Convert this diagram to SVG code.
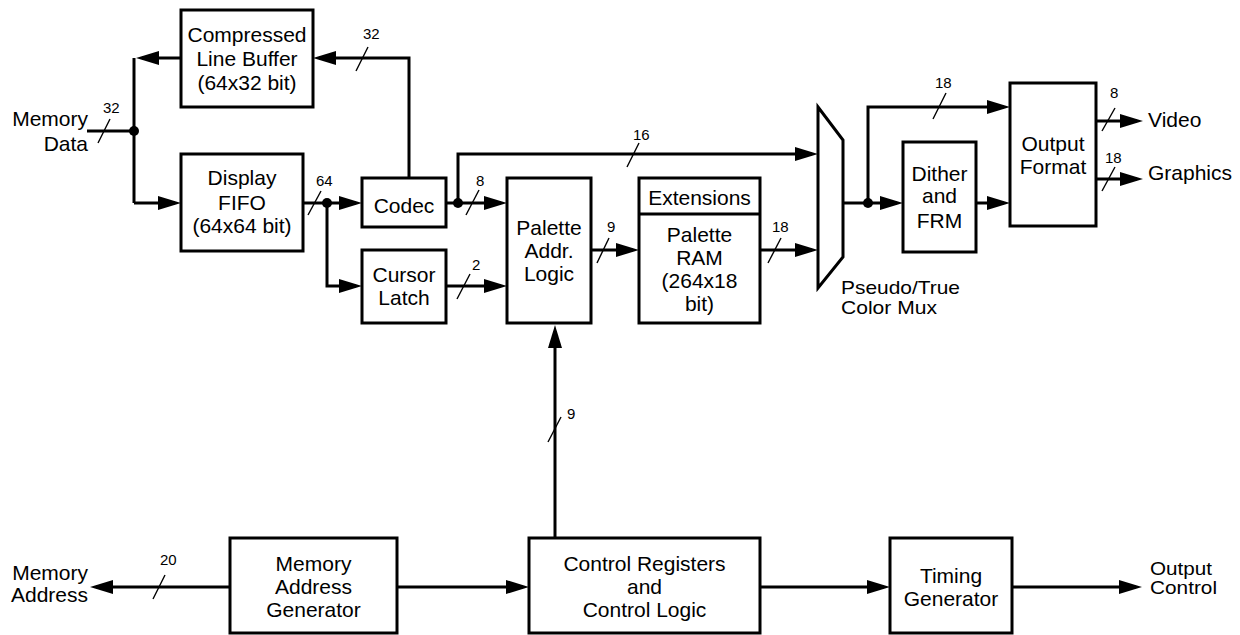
<svg xmlns="http://www.w3.org/2000/svg" width="1240" height="635" viewBox="0 0 1240 635">
<style>
.box{fill:#fff;stroke:#000;stroke-width:3}
.ln{fill:none;stroke:#000;stroke-width:3;marker-end:url(#ah)}
.pl{fill:none;stroke:#000;stroke-width:3}
.sl{stroke:#000;stroke-width:1.4}
text{font-family:"Liberation Sans",Arial,sans-serif;fill:#000}
.t{font-size:21px;text-anchor:middle}
.tl{font-size:21px}
.te{font-size:21px;text-anchor:end}
.ts{font-size:19px}
.n{font-size:15px}
</style>
<defs>
<marker id="ah" markerUnits="userSpaceOnUse" markerWidth="23" markerHeight="14" refX="17" refY="7" orient="auto">
<path d="M0,0 L23,7 L0,14 z" fill="#000"/>
</marker>
</defs>
<rect width="1240" height="635" fill="#fff"/>

<g id="connectors">
<path class="pl" d="M87,131 H134"/>
<path class="pl" d="M134,58 V203"/>
<path class="ln" d="M181,58 H142"/>
<path class="ln" d="M134,203 H175"/>
<path class="ln" d="M303,203 H356"/>
<path class="ln" d="M327,203 V286 H356"/>
<path class="ln" d="M409,178 V58 H319"/>
<path class="ln" d="M446,203 H501"/>
<path class="ln" d="M458,203 V154 H812"/>
<path class="ln" d="M446,286 H501"/>
<path class="ln" d="M591,250 H633"/>
<path class="ln" d="M760,250 H812"/>
<path class="ln" d="M843,203 H897"/>
<path class="ln" d="M868,203 V107 H1004"/>
<path class="ln" d="M976,203 H1004"/>
<path class="ln" d="M1096,121 H1137"/>
<path class="ln" d="M1096,179 H1137"/>
<path class="ln" d="M555,538 V331"/>
<path class="ln" d="M230,587 H96"/>
<path class="ln" d="M397,587 H523"/>
<path class="ln" d="M760,587 H884"/>
<path class="ln" d="M1012,587 H1136"/>
<circle cx="134" cy="131" r="5"/>
<circle cx="327" cy="203" r="5"/>
<circle cx="458" cy="203" r="5"/>
<circle cx="868" cy="203" r="5"/>
<line class="sl" x1="98" y1="143" x2="110" y2="119"/>
<line class="sl" x1="356" y1="71" x2="368" y2="47"/>
<line class="sl" x1="308" y1="215" x2="321" y2="191"/>
<line class="sl" x1="466" y1="215" x2="479" y2="190"/>
<line class="sl" x1="627" y1="167" x2="639" y2="143"/>
<line class="sl" x1="457" y1="299" x2="470" y2="274"/>
<line class="sl" x1="597" y1="263" x2="609" y2="238"/>
<line class="sl" x1="768" y1="263" x2="781" y2="238"/>
<line class="sl" x1="933" y1="119" x2="946" y2="93"/>
<line class="sl" x1="1102" y1="131" x2="1115" y2="108"/>
<line class="sl" x1="1102" y1="191" x2="1115" y2="167"/>
<line class="sl" x1="153" y1="599" x2="165" y2="575"/>
<line class="sl" x1="548" y1="442" x2="561" y2="417"/>
<text class="n" x="103" y="113">32</text>
<text class="n" x="363" y="39">32</text>
<text class="n" x="316" y="186">64</text>
<text class="n" x="476" y="186">8</text>
<text class="n" x="633" y="140">16</text>
<text class="n" x="472" y="270">2</text>
<text class="n" x="607" y="232">9</text>
<text class="n" x="772" y="232">18</text>
<text class="n" x="935" y="88">18</text>
<text class="n" x="1110" y="98">8</text>
<text class="n" x="1105" y="163">18</text>
<text class="n" x="160" y="565">20</text>
<text class="n" x="567" y="419">9</text>
</g>

<g id="memory-data">
<text class="te" x="88" y="126">Memory</text>
<text class="te" x="88" y="151">Data</text>
</g>

<g id="compressed-line-buffer">
<rect class="box" x="181" y="10" width="132" height="97"/>
<text class="t" x="247" y="42">Compressed</text>
<text class="t" x="247" y="66">Line Buffer</text>
<text class="t" x="247" y="90">(64x32 bit)</text>
</g>

<g id="display-fifo">
<rect class="box" x="181" y="154" width="122" height="97"/>
<text class="t" x="242" y="185">Display</text>
<text class="t" x="242" y="210">FIFO</text>
<text class="t" x="242" y="233">(64x64 bit)</text>
</g>

<g id="codec">
<rect class="box" x="362" y="178" width="84" height="49"/>
<text class="t" x="404" y="213">Codec</text>
</g>

<g id="cursor-latch">
<rect class="box" x="362" y="250" width="84" height="73"/>
<text class="t" x="404" y="282">Cursor</text>
<text class="t" x="404" y="305">Latch</text>
</g>

<g id="palette-addr-logic">
<rect class="box" x="507" y="178" width="84" height="145"/>
<text class="t" x="549" y="235">Palette</text>
<text class="t" x="549" y="258">Addr.</text>
<text class="t" x="549" y="281">Logic</text>
</g>

<g id="palette-ram">
<rect class="box" x="639" y="178" width="121" height="145"/>
<line x1="639" y1="214" x2="760" y2="214" stroke="#000" stroke-width="3"/>
<text class="t" x="699.5" y="205">Extensions</text>
<text class="t" x="699.5" y="242">Palette</text>
<text class="t" x="699.5" y="265">RAM</text>
<text class="t" x="699.5" y="288">(264x18</text>
<text class="t" x="699.5" y="311">bit)</text>
</g>

<g id="color-mux">
<polygon class="box" points="818,107 843,140 843,257 818,288"/>
<text class="ts" x="841" y="294" textLength="119" lengthAdjust="spacingAndGlyphs">Pseudo/True</text>
<text class="ts" x="841" y="314" textLength="96" lengthAdjust="spacingAndGlyphs">Color Mux</text>
</g>

<g id="dither-frm">
<rect class="box" x="903" y="142" width="73" height="110"/>
<text class="t" x="939.5" y="181">Dither</text>
<text class="t" x="939.5" y="203">and</text>
<text class="t" x="939.5" y="228">FRM</text>
</g>

<g id="output-format">
<rect class="box" x="1010" y="83" width="86" height="143"/>
<text class="t" x="1053" y="151">Output</text>
<text class="t" x="1053" y="174">Format</text>
</g>

<g id="video">
<text class="tl" x="1148" y="127">Video</text>
</g>
<g id="graphics">
<text class="tl" x="1148" y="180">Graphics</text>
</g>

<g id="memory-address">
<text class="te" x="88" y="580">Memory</text>
<text class="te" x="88" y="602">Address</text>
</g>

<g id="memory-address-generator">
<rect class="box" x="230" y="538" width="167" height="95"/>
<text class="t" x="313.5" y="571">Memory</text>
<text class="t" x="313.5" y="594">Address</text>
<text class="t" x="313.5" y="617">Generator</text>
</g>

<g id="control-registers">
<rect class="box" x="529" y="538" width="231" height="95"/>
<text class="t" x="644.5" y="571">Control Registers</text>
<text class="t" x="644.5" y="594">and</text>
<text class="t" x="644.5" y="617">Control Logic</text>
</g>

<g id="timing-generator">
<rect class="box" x="890" y="538" width="122" height="95"/>
<text class="t" x="951" y="583">Timing</text>
<text class="t" x="951" y="606">Generator</text>
</g>

<g id="output-control">
<text class="ts" x="1150" y="575" textLength="62" lengthAdjust="spacingAndGlyphs">Output</text>
<text class="ts" x="1150" y="594" textLength="67" lengthAdjust="spacingAndGlyphs">Control</text>
</g>
</svg>
